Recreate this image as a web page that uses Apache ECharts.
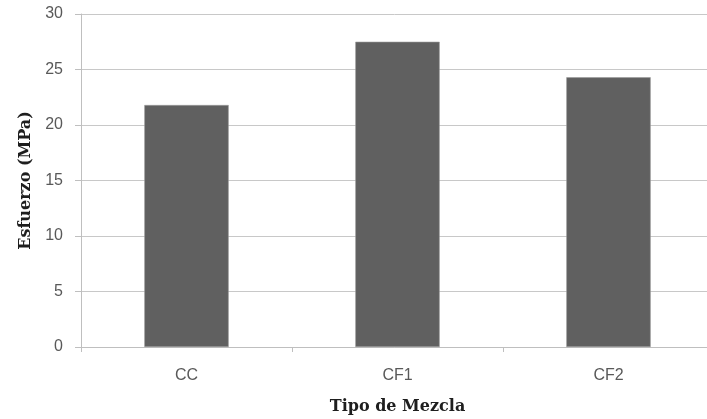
<!DOCTYPE html>
<html>
<head>
<meta charset="utf-8">
<script src="https://cdn.jsdelivr.net/npm/echarts@6/dist/echarts.min.js"></script>
<style>
  html, body { margin: 0; padding: 0; background: #ffffff; overflow: hidden; }
  #chart { width: 707px; height: 419px; }
</style>
</head>
<body>
<div id="chart"></div>
<script>
// Compressive strength by mix type
const categories = ['CC', 'CF1', 'CF2'];
const strengthValues = [21.8, 27.5, 24.3];
const yTicks = { min: 0, max: 30, interval: 5 };

const chart = echarts.init(document.getElementById('chart'), null, { renderer: 'canvas' });

const axisGray = '#bfbfbf';
const labelGray = '#595959';
const serifTitle = '"DejaVu Serif", "Liberation Serif", serif';
const sansLabel = '"Liberation Sans", sans-serif';

chart.setOption({
  animation: false,
  backgroundColor: '#ffffff',
  // plot area runs slightly past the right edge of the canvas
  grid: { left: 81, right: -7, top: 14, bottom: 72, outerBoundsMode: 'none', containLabel: false },
  xAxis: {
    type: 'category',
    data: categories,
    name: 'Tipo de Mezcla',
    nameLocation: 'middle',
    nameGap: 52,
    nameTextStyle: { fontFamily: serifTitle, fontWeight: 'bold', fontSize: 16, color: '#1e1e1e' },
    axisLine: { lineStyle: { color: axisGray, width: 1 } },
    axisTick: { show: true, length: 5, lineStyle: { color: axisGray } },
    axisLabel: { fontFamily: sansLabel, fontSize: 16, color: labelGray, margin: 21 },
    splitLine: { show: false }
  },
  yAxis: {
    type: 'value',
    min: yTicks.min,
    max: yTicks.max,
    interval: yTicks.interval,
    name: 'Esfuerzo (MPa)',
    nameLocation: 'middle',
    nameGap: 47,
    nameRotate: 90,
    nameTextStyle: { fontFamily: serifTitle, fontWeight: 'bold', fontSize: 16, color: '#1e1e1e' },
    axisLine: { show: true, lineStyle: { color: axisGray, width: 1 } },
    axisTick: { show: true, length: 6, lineStyle: { color: axisGray } },
    axisLabel: { fontFamily: sansLabel, fontSize: 16, color: labelGray, margin: 18 },
    splitLine: { show: true, lineStyle: { color: '#c8c8c8', width: 1 } }
  },
  series: [{
    type: 'bar',
    data: strengthValues,
    barWidth: '40%',
    itemStyle: { color: '#606060', borderColor: '#9a9a9a', borderWidth: 0.6 }
  }]
});
</script>
</body>
</html>
